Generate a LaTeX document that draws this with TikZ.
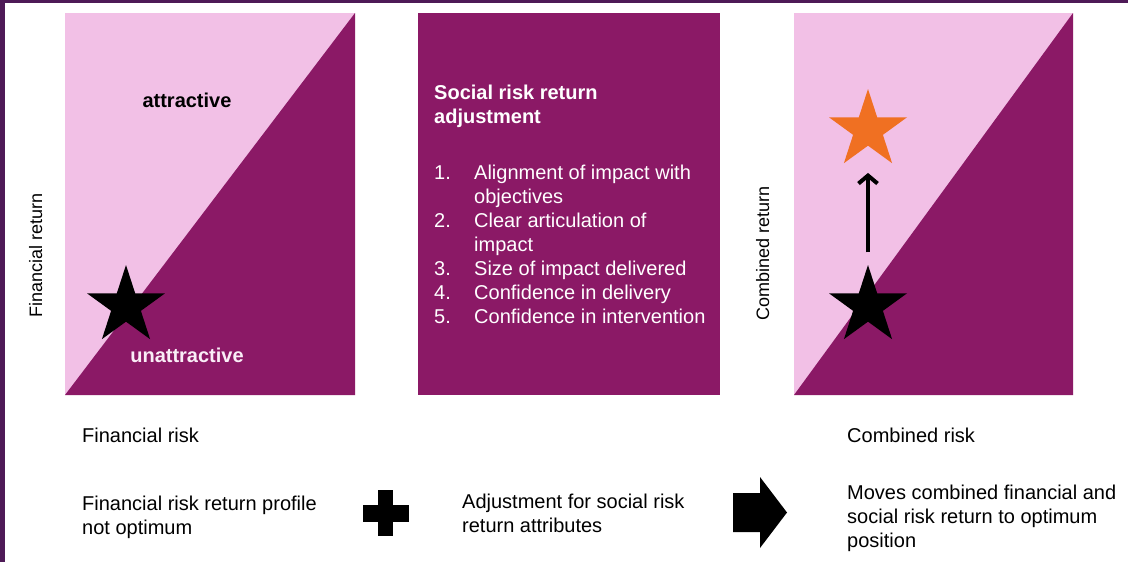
\documentclass[tikz,border=0pt]{standalone}
\usepackage{fontspec}
\setmainfont{Liberation Sans}
\usetikzlibrary{shapes.geometric,arrows.meta}
\definecolor{pinkbg}{HTML}{F2C0E6}
\definecolor{plum}{HTML}{8B1966}
\definecolor{framecol}{HTML}{4E1A57}
\definecolor{starorange}{HTML}{F07022}
\definecolor{paletext}{HTML}{FAEEF7}
\begin{document}
\begin{tikzpicture}[x=1pt,y=-1pt,
  lbl/.style={font=\fontsize{20}{24}\selectfont, inner sep=0, align=left},
  axislbl/.style={font=\fontsize{18}{22}\selectfont, inner sep=0, rotate=90, anchor=base},
  starnode/.style={star, star points=5, star point ratio=2.618, minimum size=82pt, inner sep=0},
  movearrow/.style={line width=4pt, -{Straight Barb[length=8pt,width=19pt]}, shorten <=12pt, shorten >=27pt},
]
\useasboundingbox (0,0) rectangle (1128,562);
\fill[white] (0,0) rectangle (1128,562);
\fill[framecol] (0,0) rectangle (1128,3);
\fill[framecol] (0,0) rectangle (5,562);
% left panel
\fill[pinkbg] (65,13) rectangle (355,395);
\fill[plum] (65,395) -- (355,13) -- (355,395) -- cycle;
% middle panel
\fill[plum] (418,13) rectangle (720,395);
% right panel
\fill[pinkbg] (794,13) rectangle (1073,395);
\fill[plum] (794,395) -- (1073,13) -- (1073,395) -- cycle;

% left panel content
\node[lbl, anchor=base] (att) at (187,107) {\textbf{attractive}};
\node[starnode, fill=black] (s1) at (126,306) {};
\node[lbl, anchor=base, text=paletext] (unatt) at (187,362) {\textbf{unattractive}};
\node[axislbl] (fret) at (42,255) {Financial return};
\node[lbl, anchor=base west] (frisk) at (82,442) {Financial risk};
\node[lbl, anchor=base west] (fprof) at (82,534) {Financial risk return profile\\not optimum};

% middle panel content
\node[lbl, anchor=base west, text=white, font=\fontsize{20}{24}\selectfont\bfseries] (head) at (434,123) {Social risk return\\adjustment};
\node[lbl, anchor=base west, text=white] (list) at (434,179) {%
\begin{tabular}[t]{@{}p{40pt}@{}l@{}}
1. & Alignment of impact with\\
   & objectives\\
2. & Clear articulation of\\
   & impact\\
3. & Size of impact delivered\\
4. & Confidence in delivery\\
5. & Confidence in intervention
\end{tabular}};
\node[lbl, anchor=base west] (adj) at (462,532) {Adjustment for social risk\\return attributes};

% plus sign
\fill[black] (363,505) rectangle (409,522);
\fill[black] (378,490) rectangle (393,536);
% block arrow
\fill[black] (733,493) -- (760,493) -- (760,477) -- (787,512.5) -- (760,548) -- (760,532) -- (733,532) -- cycle;

% right panel content
\node[starnode, fill=starorange] (s3) at (868,130) {};
\node[starnode, fill=black] (s2) at (868,306) {};
\draw[movearrow] (s2) -- (s3);
\node[axislbl] (cret) at (769,253) {Combined return};
\node[lbl, anchor=base west] (crisk) at (847,442) {Combined risk};
\node[lbl, anchor=base west] (moves) at (847,547) {Moves combined financial and\\social risk return to optimum\\position};
\end{tikzpicture}
\end{document}
